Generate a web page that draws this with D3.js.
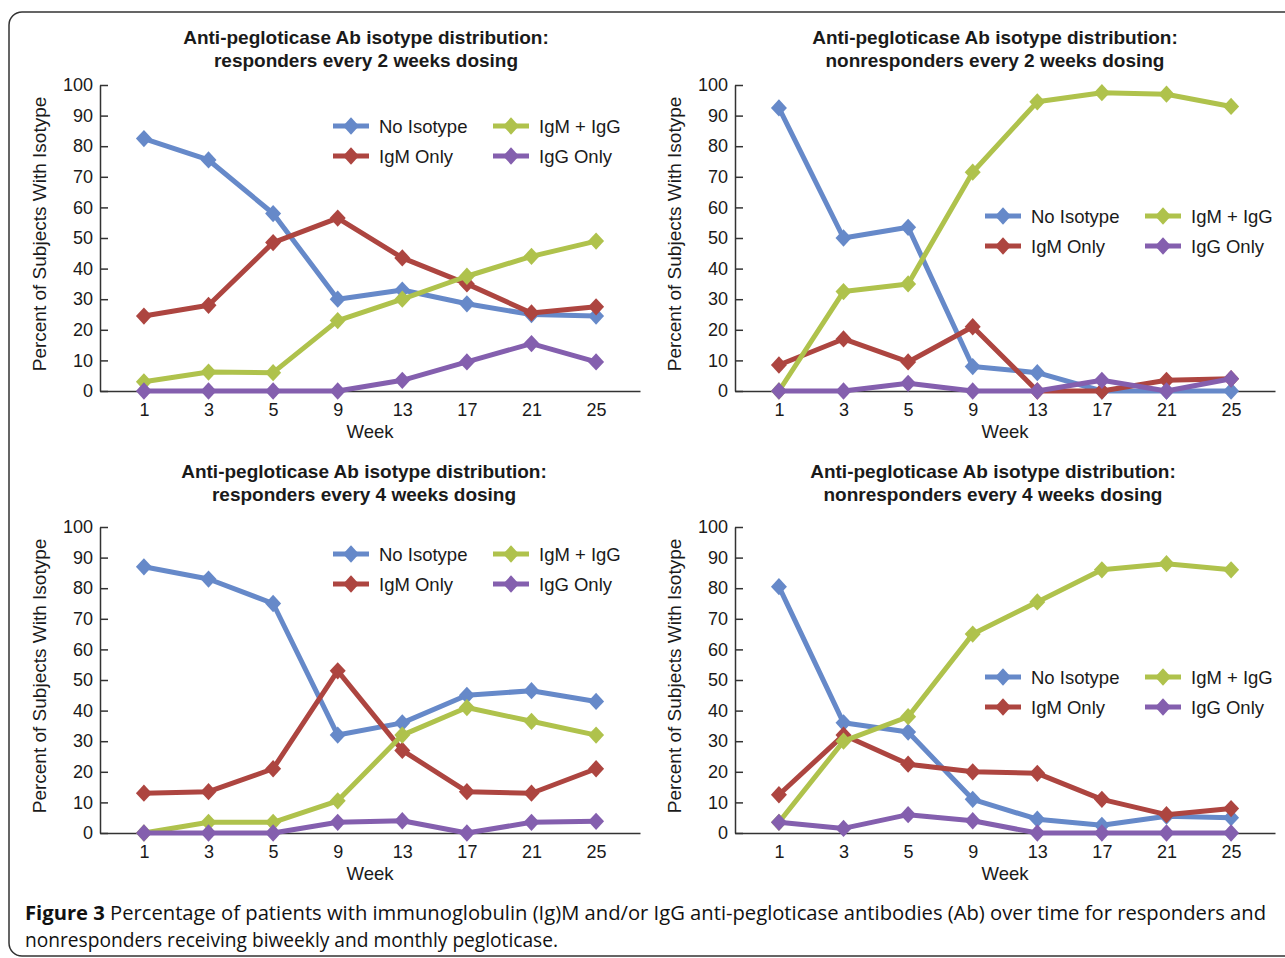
<!DOCTYPE html>
<html>
<head>
<meta charset="utf-8">
<script src="https://cdn.jsdelivr.net/npm/d3@7"></script>
<style>
  body { margin: 0; background: #fff; }
  svg { display: block; }
  text { font-family: "Liberation Sans", Arial, sans-serif; fill: #1a1a1a; }
</style>
</head>
<body>
<svg width="1285" height="958"></svg>
<script>
const width = 1285, height = 958;

// data
const weeks = ["1", "3", "5", "9", "13", "17", "21", "25"];
const seriesNames = ["No Isotype", "IgM Only", "IgM + IgG", "IgG Only"];
const seriesColors = ["#6689c9", "#ad4540", "#afc24c", "#845fae"];
const yTicks = [0, 10, 20, 30, 40, 50, 60, 70, 80, 90, 100];

const titles = [
  ["Anti-pegloticase Ab isotype distribution:", "responders every 2 weeks dosing"],
  ["Anti-pegloticase Ab isotype distribution:", "nonresponders every 2 weeks dosing"],
  ["Anti-pegloticase Ab isotype distribution:", "responders every 4 weeks dosing"],
  ["Anti-pegloticase Ab isotype distribution:", "nonresponders every 4 weeks dosing"]
];

// responders q2w
const resp2NoIso = [82.5, 75.5, 58, 30, 33, 28.5, 25, 24.5];
const resp2IgM   = [24.5, 28, 48.5, 56.5, 43.5, 35, 25.5, 27.5];
const resp2Both  = [3, 6.2, 6, 23, 30, 37.5, 44, 49];
const resp2IgG   = [0, 0, 0, 0, 3.5, 9.5, 15.5, 9.5];
// nonresponders q2w
const non2NoIso = [92.5, 50, 53.5, 8, 6, 0, 0, 0];
const non2IgM   = [8.5, 17, 9.5, 21, 0, 0, 3.5, 4];
const non2Both  = [0, 32.5, 35, 71.5, 94.5, 97.5, 97, 93];
const non2IgG   = [0, 0, 2.5, 0, 0, 3.5, 0, 4];
// responders q4w
const resp4NoIso = [87, 83, 75, 32, 36, 45, 46.5, 43];
const resp4IgM   = [13, 13.5, 21, 53, 27, 13.5, 13, 21];
const resp4Both  = [0, 3.5, 3.5, 10.5, 32, 41, 36.5, 32];
const resp4IgG   = [0, 0, 0, 3.5, 4, 0, 3.5, 3.8];
// nonresponders q4w
const non4NoIso = [80.5, 36, 33, 11, 4.5, 2.5, 5.5, 5];
const non4IgM   = [12.5, 32, 22.5, 20, 19.5, 11, 6, 8];
const non4Both  = [3.5, 30, 38, 65, 75.5, 86, 88, 86];
const non4IgG   = [3.5, 1.5, 6, 4, 0, 0, 0, 0];

const panelData = [
  [resp2NoIso, resp2IgM, resp2Both, resp2IgG],
  [non2NoIso, non2IgM, non2Both, non2IgG],
  [resp4NoIso, resp4IgM, resp4Both, resp4IgG],
  [non4NoIso, non4IgM, non4Both, non4IgG]
];

// layout of each panel
const panels = [
  {x0: 100, x1: 640, yTop: 85, yBot: 391, titleX: 366, titleY: 44, legX: 351, legY: 126},
  {x0: 735, x1: 1275, yTop: 85, yBot: 391, titleX: 995, titleY: 44, legX: 1003, legY: 216},
  {x0: 100, x1: 640, yTop: 527, yBot: 833, titleX: 364, titleY: 478, legX: 351, legY: 554},
  {x0: 735, x1: 1275, yTop: 527, yBot: 833, titleX: 993, titleY: 478, legX: 1003, legY: 677}
];

const svg = d3.select("svg");

// rounded frame
svg.append("rect")
  .attr("x", 9).attr("y", 12)
  .attr("width", 1300).attr("height", 944)
  .attr("rx", 13)
  .attr("fill", "none")
  .attr("stroke", "#333")
  .attr("stroke-width", 1.5);

// squarish diamond marker like the original
const diamondType = {
  draw(ctx, size) {
    const w = Math.sqrt(size) / 2, h = w * 1.08;
    ctx.moveTo(0, -h); ctx.lineTo(w, 0); ctx.lineTo(0, h); ctx.lineTo(-w, 0); ctx.closePath();
  }
};
const diamond = d3.symbol().type(diamondType).size(256);

panels.forEach((p, i) => {
  const g = svg.append("g");

  const x = d3.scalePoint().domain(weeks).range([p.x0, p.x1]).padding(0.68);
  const y = d3.scaleLinear().domain([0, 100]).range([p.yBot, p.yTop]);

  // title
  const t = g.append("text")
    .attr("x", p.titleX).attr("y", p.titleY)
    .attr("text-anchor", "middle")
    .attr("font-size", "19px").attr("font-weight", "bold");
  titles[i].forEach((line, k) => {
    t.append("tspan").attr("x", p.titleX).attr("dy", k ? 23 : 0).text(line);
  });

  // y axis
  const yAxis = g.append("g")
    .attr("transform", `translate(${p.x0},0)`)
    .call(d3.axisLeft(y).tickValues(yTicks).tickSizeInner(-8).tickSizeOuter(0).tickPadding(7));
  yAxis.select(".domain").attr("stroke", "#333").attr("stroke-width", 1.5);
  yAxis.selectAll(".tick line").attr("stroke", "#333").attr("stroke-width", 1.5);
  yAxis.selectAll(".tick text").attr("font-size", "18px").attr("font-family", "Liberation Sans, Arial, sans-serif").attr("fill", "#1a1a1a");

  // x axis
  const xAxis = g.append("g")
    .attr("transform", `translate(0,${p.yBot})`)
    .call(d3.axisBottom(x).tickSize(0).tickPadding(12));
  xAxis.select(".domain").attr("stroke", "#333").attr("stroke-width", 1.5);
  xAxis.selectAll(".tick text").attr("font-size", "18px").attr("font-family", "Liberation Sans, Arial, sans-serif").attr("fill", "#1a1a1a");

  // axis labels
  g.append("text")
    .attr("x", (p.x0 + p.x1) / 2).attr("y", p.yBot + 47)
    .attr("text-anchor", "middle")
    .attr("font-size", "18.5px")
    .text("Week");
  g.append("text")
    .attr("transform", `translate(${p.x0 - 54},${(p.yTop + p.yBot) / 2 - 4}) rotate(-90)`)
    .attr("text-anchor", "middle")
    .attr("font-size", "19px")
    .text("Percent of Subjects With Isotype");

  // lines + markers
  const line = d3.line().x((d, k) => x(weeks[k])).y(d => y(d));
  panelData[i].forEach((vals, s) => {
    g.append("path")
      .datum(vals)
      .attr("d", line)
      .attr("fill", "none")
      .attr("stroke", seriesColors[s])
      .attr("stroke-width", 5)
      .attr("stroke-linejoin", "round");
    g.selectAll(null)
      .data(vals)
      .join("path")
      .attr("d", diamond)
      .attr("transform", (d, k) => `translate(${x(weeks[k])},${y(d)})`)
      .attr("fill", seriesColors[s]);
  });

  // legend
  seriesNames.forEach((name, s) => {
    const lx = p.legX + (s >= 2 ? 160 : 0);
    const ly = p.legY + (s % 2) * 30;
    g.append("line")
      .attr("x1", lx - 18).attr("x2", lx + 18)
      .attr("y1", ly).attr("y2", ly)
      .attr("stroke", seriesColors[s]).attr("stroke-width", 5);
    g.append("path")
      .attr("d", diamond)
      .attr("transform", `translate(${lx},${ly})`)
      .attr("fill", seriesColors[s]);
    g.append("text")
      .attr("x", lx + 28).attr("y", ly + 6.5)
      .attr("font-size", "18.5px")
      .text(name);
  });
});

// caption
const c1 = svg.append("text").attr("x", 25).attr("y", 920).attr("font-size", "20px")
  .attr("textLength", 1241).attr("lengthAdjust", "spacingAndGlyphs")
  .style("font-family", "Open Sans, Noto Sans, sans-serif").style("fill", "#111");
c1.append("tspan").attr("font-weight", "bold").text("Figure 3");
c1.append("tspan").text(" Percentage of patients with immunoglobulin (Ig)M and/or IgG anti-pegloticase antibodies (Ab) over time for responders and");
svg.append("text").attr("x", 25).attr("y", 947).attr("font-size", "20px")
  .attr("textLength", 533).attr("lengthAdjust", "spacingAndGlyphs")
  .style("font-family", "Open Sans, Noto Sans, sans-serif").style("fill", "#111")
  .text("nonresponders receiving biweekly and monthly pegloticase.");
</script>
</body>
</html>
